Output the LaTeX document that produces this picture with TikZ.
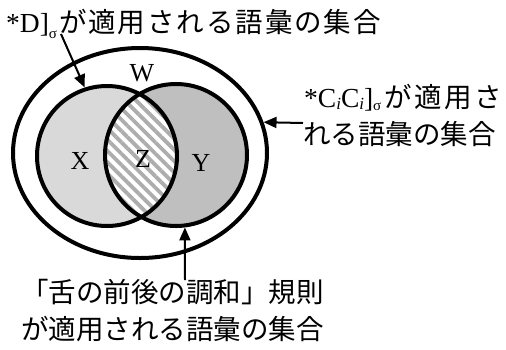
\documentclass[tikz,border=0pt]{standalone}
\usepackage{fontspec}
\setmainfont{Liberation Serif}
\newfontfamily\jp{Noto Sans CJK JP}
\newfontfamily\jpa{Noto Sans CJK JP}[LetterSpace=7]
\newfontfamily\jpb{Noto Sans CJK JP}[LetterSpace=9]
\usetikzlibrary{arrows.meta,shapes.geometric,patterns.meta}
\begin{document}
\begin{tikzpicture}[x=1pt,y=-1pt,
  setline/.style={draw=black,line width=4pt},
  lbl/.style={font=\fontsize{26}{30}\selectfont,inner sep=0pt},
  txt/.style={font=\fontsize{27.5}{33}\selectfont,inner sep=0pt,anchor=base west},
  pointer/.style={line width=2pt,-{Triangle[length=13pt,width=11pt]}}]
\useasboundingbox (0,0) rectangle (506,349);
% fills
\fill[black!15] (107,156) circle[radius=70];
\fill[black!25] (176,155) circle[radius=71];
\begin{scope}
  \clip (107,156) circle[radius=70];
  \fill[white] (176,155) circle[radius=71];
  \fill[pattern={Lines[angle=-45,distance=8pt,line width=3.8pt]},pattern color=black!32] (176,155) circle[radius=71];
\end{scope}
% outlines
\node[setline,ellipse,minimum width=254pt,minimum height=210pt,inner sep=0pt] (W) at (140,153) {};
\node[setline,circle,minimum size=140pt,inner sep=0pt] (X) at (107,156) {};
\node[setline,circle,minimum size=142pt,inner sep=0pt] (Y) at (176,155) {};
% labels
\node[lbl] (Wl) at (142,73) {W};
\node[lbl] (Xl) at (80,161) {X};
\node[lbl] (Zl) at (143,159) {Z};
\node[lbl] (Yl) at (201,163) {Y};
% texts
\node[txt] (t1) at (6,32) {*D]\raisebox{-6pt}{\fontsize{15}{15}\selectfont σ}\hspace{2pt}{\jpa が適用される語彙の集合}};
\node[txt] (t2) at (304,107) {*C\raisebox{-2pt}{\fontsize{17}{17}\selectfont\itshape i}C\raisebox{-2pt}{\fontsize{17}{17}\selectfont\itshape i}]\raisebox{-3pt}{\fontsize{15}{15}\selectfont σ}\hspace{3pt}{\jpb が適用さ}};
\node[txt] (t3) at (303,144) {\jp れる語彙の集合};
\node[txt] (t4) at (21,302) {\jp 「舌の前後の調和」規則};
\node[txt] (t5) at (21,339) {\jp が適用される語彙の集合};
% pointers
\coordinate (p1) at (61,34);
\coordinate (p2) at (303,123);
\coordinate (p3) at (185,280);
\draw[pointer] (p1) -- (X.108);
\draw[pointer] (p2) -- (W.14);
\draw[pointer] (p3) -- (Y.-83);
\end{tikzpicture}
\end{document}
